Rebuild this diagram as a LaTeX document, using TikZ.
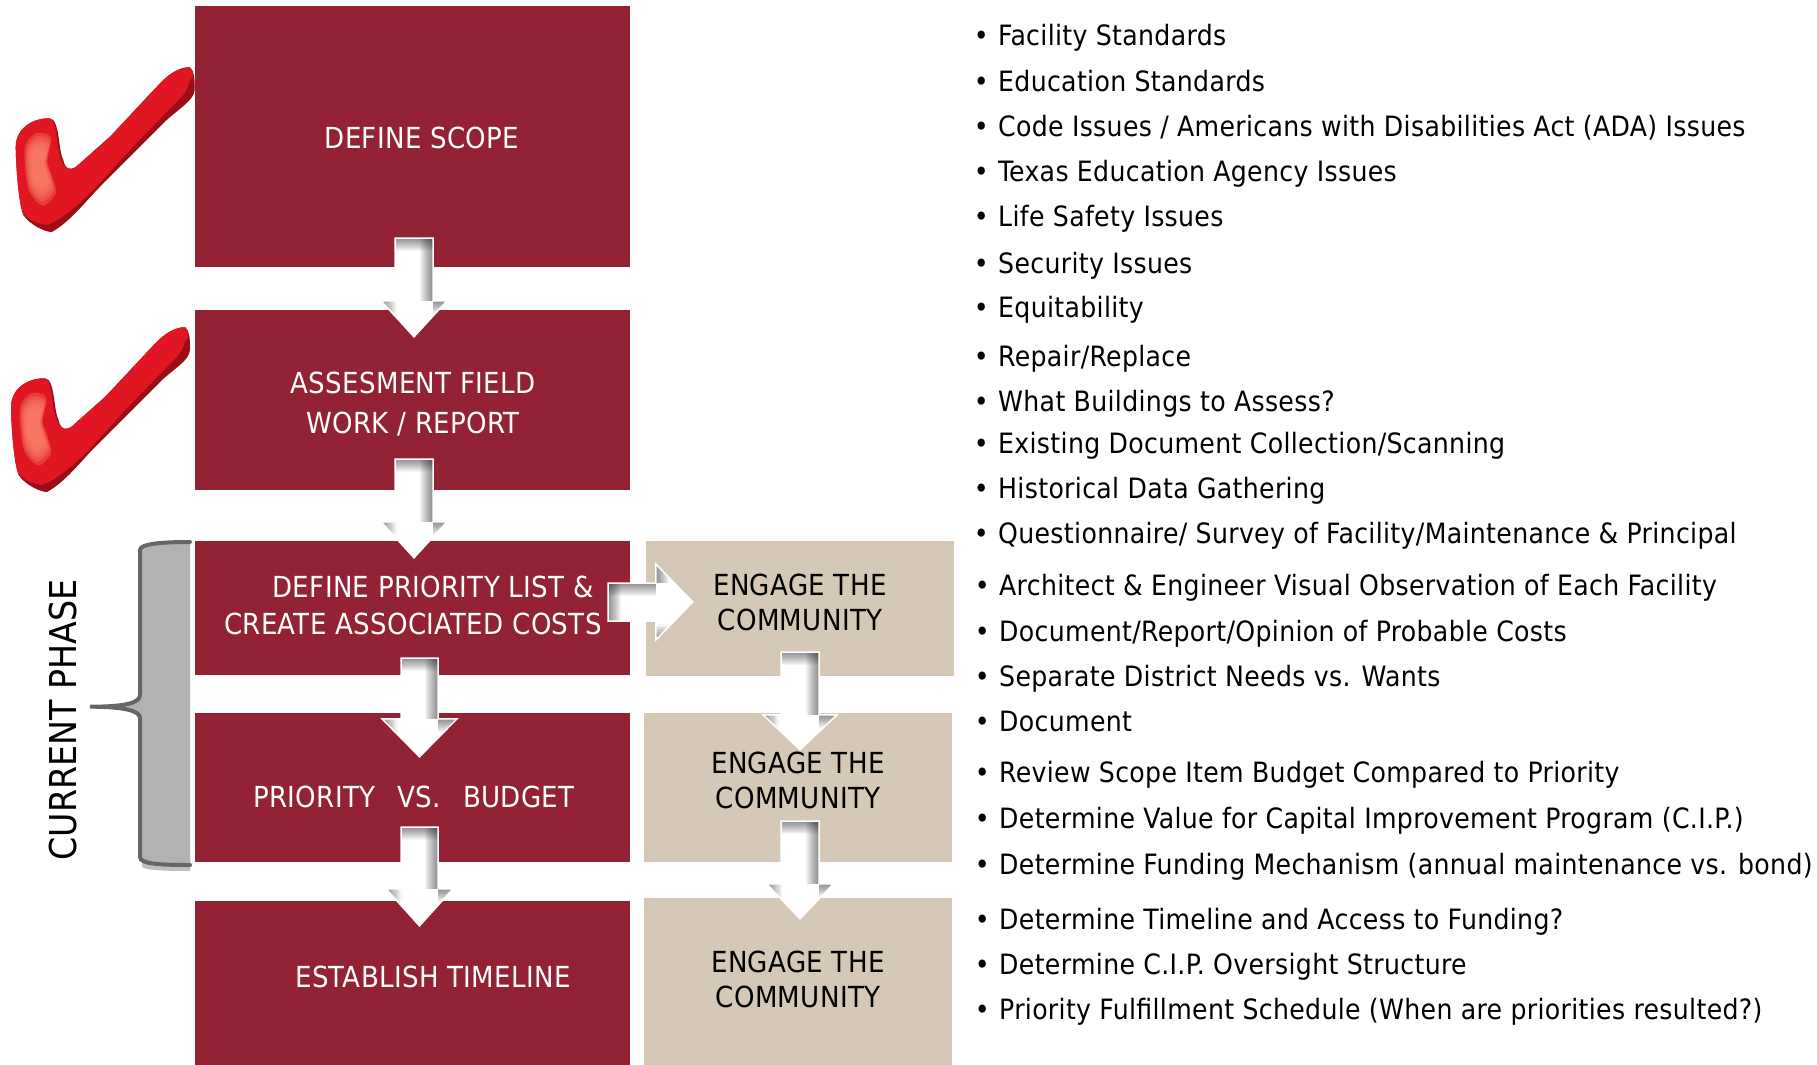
\documentclass[tikz,border=0pt]{standalone}
\usepackage{fontspec}
\setmainfont{DejaVu Sans Condensed}
\newfontfamily\spacedfont[LetterSpace=1.2]{DejaVu Sans Condensed}
\usetikzlibrary{calc}

\definecolor{maroon}{HTML}{932234}
\definecolor{tan}{HTML}{D5C8B6}
\definecolor{tickred}{HTML}{E01723}
\definecolor{tickdark}{HTML}{9C0E17}
\definecolor{tickglow}{HTML}{F9806A}

\tikzset{
    redbox/.style={draw=none, fill=maroon},
    tanbox/.style={draw=none, fill=tan},
    boxtext/.style={align=center, font=\spacedfont\fontsize{29}{35}\selectfont},
    listitem/.style={anchor=base west, inner sep=0pt, font=\spacedfont\fontsize{28}{30}\selectfont}
}

% from, to, angle, half shaft, half head, head length
\newcommand{\blockarrow}[6]{
    \path let \p1=($(#2)-(#1)$), \n1={veclen(\x1,\y1)} in \pgfextra{\xdef\arrowlen{\n1}};
    \begin{scope}[shift={(#1)}, rotate=#3]
        \def\arrowpath{(0pt,-#4pt) -- (0pt,#4pt) -- ({\arrowlen-#6pt},#4pt) -- ({\arrowlen-#6pt},#5pt) -- (\arrowlen,0pt)
            -- ({\arrowlen-#6pt},-#5pt) -- ({\arrowlen-#6pt},-#4pt) -- cycle}
        \fill[white] \arrowpath;
        \begin{scope}
            \clip \arrowpath;
            \foreach \k in {1,...,13} {
                \fill[black, opacity=0.04] (0pt,-#4pt) rectangle (\k pt,#4pt);
                \fill[black, opacity=0.04] (0pt,{(#4-\k)*1pt}) rectangle ({\arrowlen-#6pt},#4pt);
                \fill[black, opacity=0.04] ({\arrowlen-#6pt},#4pt) rectangle ({\arrowlen-#6pt+\k pt},#5pt);
                \fill[black, opacity=0.04] ({\arrowlen-#6pt},-#5pt) rectangle ({\arrowlen-#6pt+\k pt},{(-#5+\k*1.2)*1pt});
            }
        \end{scope}
        \draw[white, line width=1.5pt] \arrowpath;
    \end{scope}
}

\newcommand{\redtick}[2]{
    \begin{scope}[shift={(#1,#2)}]
        \fill[tickdark] (190,67.3) .. controls (194,70) and (195,80) .. (194.7,90)
            .. controls (194,100) and (180,108) .. (166.7,120) -- (100,186.7)
            .. controls (85,202) and (70,222) .. (51.7,232) .. controls (45,232) and (30,225) .. (23.3,215)
            .. controls (19,205) and (16,170) .. (15.7,146.7) .. controls (16,128) and (33,118) .. (50,118.3)
            .. controls (60,120) and (58,150) .. (63.3,160) .. controls (65,170) and (72,172) .. (80,163.3)
            -- (110,136.7) -- (160,83.3) .. controls (170,73) and (180,67) .. (190,67.3) -- cycle;
        \fill[tickred] (190,67.3) .. controls (194,72) and (194,78) .. (190,80)
            .. controls (188,88) and (185,93) .. (181.7,96.7) -- (133,146.7) -- (93.3,190)
            .. controls (80,203) and (62,220) .. (46.7,225) .. controls (38,224) and (28,220) .. (23.3,213)
            .. controls (19,205) and (16,170) .. (15.7,146.7) .. controls (16,128) and (33,118) .. (49,118.3)
            .. controls (58,120) and (56,150) .. (61.5,160) .. controls (64,170) and (72,172) .. (80,163.3)
            -- (110,136.7) -- (160,83.3) .. controls (170,73) and (180,67) .. (190,67.3) -- cycle;
        \foreach \s in {1.2,1.08,0.96,0.84,0.72,0.6}
            \fill[tickglow, opacity=0.35, shift={(39,167)}, scale=\s] plot[smooth cycle] coordinates
                {(-3,-28) (-12,-15) (-9,18) (3,32) (14,22) (11,8) (7,-5) (10,-25)};
    \end{scope}
}

\begin{document}
\begin{tikzpicture}[x=1pt, y=-1pt]
    \useasboundingbox (0,0) rectangle (1817,1065);

    % left column
    \node[redbox, minimum width=435pt, minimum height=261pt] (scope) at (412.5,136.5) {};
    \node[redbox, minimum width=435pt, minimum height=180pt] (field) at (412.5,400) {};
    \node[redbox, minimum width=435pt, minimum height=134pt] (priority) at (412.5,608) {};
    \node[redbox, minimum width=435pt, minimum height=149pt] (budget) at (412.5,787.5) {};
    \node[redbox, minimum width=435pt, minimum height=164pt] (timeline) at (412.5,983) {};

    \node[boxtext, text=white] (scopetext) at (422,138) {DEFINE SCOPE};
    \node[boxtext, text=white, font=\spacedfont\fontsize{29}{40}\selectfont] (fieldtext) at (413,404) {ASSESMENT FIELD\\WORK / REPORT};
    \node[boxtext, text=white, font=\spacedfont\fontsize{29}{37}\selectfont] (prioritytext) at (413,605.5) {\hspace*{40pt}DEFINE PRIORITY LIST \&\\CREATE ASSOCIATED COSTS};
    \node[boxtext, text=white] (budgettext) at (414,797) {PRIORITY\ \ \,VS.\ \ \,BUDGET};
    \node[boxtext, text=white] (timelinetext) at (433,977) {ESTABLISH TIMELINE};

    % right column
    \node[tanbox, minimum width=308pt, minimum height=135pt] (engageone) at (800,608.5) {};
    \node[tanbox, minimum width=308pt, minimum height=149pt] (engagetwo) at (798,787.5) {};
    \node[tanbox, minimum width=308pt, minimum height=167pt] (engagethree) at (798,981.5) {};
    \node[boxtext] (engageonetext) at (800,602.5) {ENGAGE THE\\COMMUNITY};
    \node[boxtext] (engagetwotext) at (798,780) {ENGAGE THE\\COMMUNITY};
    \node[boxtext] (engagethreetext) at (798,979) {ENGAGE THE\\COMMUNITY};

    % arrows
    \coordinate (fa) at ($(scope.south)+(1.5,-29)$);
    \coordinate (fb) at ($(field.north)+(1.5,27)$);
    \coordinate (fc) at ($(field.south)+(1.5,-31)$);
    \coordinate (fd) at ($(priority.north)+(1.5,17)$);
    \coordinate (fe) at ($(priority.south)+(7,-17)$);
    \coordinate (ff) at ($(budget.north)+(7,44)$);
    \coordinate (fg) at ($(budget.south)+(7,-35)$);
    \coordinate (fh) at ($(timeline.north)+(7,25)$);
    \coordinate (ga) at ($(priority.east)+(-22,-6)$);
    \coordinate (gb) at ($(engageone.west)+(47,-6)$);
    \coordinate (gc) at ($(engageone.south)+(0,-24)$);
    \coordinate (gd) at ($(engagetwo.north)+(2,37)$);
    \coordinate (ge) at ($(engagetwo.south)+(2,-41)$);
    \coordinate (gf) at ($(engagethree.north)+(2,21)$);
    \blockarrow{fa}{fb}{-90}{19}{33}{36}
    \blockarrow{fc}{fd}{-90}{19}{33}{36}
    \blockarrow{fe}{ff}{-90}{18.5}{37.5}{38}
    \blockarrow{fg}{fh}{-90}{18.5}{33.5}{37}
    \blockarrow{ga}{gb}{0}{19}{38}{37}
    \blockarrow{gc}{gd}{-90}{19}{37}{35}
    \blockarrow{ge}{gf}{-90}{19}{33.5}{35}

    % ticks
    \redtick{0}{0}
    \redtick{-4.7}{260}

    % brace
    \fill[black!25] (190,545) .. controls (160,545) and (142,546) .. (142,553) -- (142,866) .. controls (142,870) and (160,871) .. (190,871) -- cycle;
    \fill[black!30] (190,541) .. controls (160,541) and (140,543) .. (140,550) -- (140,695)
        .. controls (140,703) and (125,706.7) .. (115,706.7) .. controls (125,706.7) and (140,711) .. (140,718)
        -- (140,857) .. controls (140,864) and (160,866) .. (190,866) -- cycle;
    \draw[black!60, line width=4pt, line cap=round] (190,542) .. controls (160,542) and (140,544) .. (140,550) -- (140,695)
        .. controls (140,703) and (125,706.7) .. (90,706.7) .. controls (125,706.7) and (140,711) .. (140,718)
        -- (140,857) .. controls (140,864) and (160,865) .. (190,865);
    \node[rotate=90, font=\fontsize{37}{37}\selectfont] (phase) at (63,720) {CURRENT PHASE};

    % list
    \foreach \i/\ypos/\xpos/\itemtext in {
        a/46/998/{Facility Standards}, b/91/998/{Education Standards},
        c/136.5/998/{Code Issues / Americans with Disabilities Act (ADA) Issues},
        d/181.7/998/{Texas Education Agency Issues}, e/226.7/998/{Life Safety Issues},
        f/273/998/{Security Issues}, g/317/998/{Equitability}, h/366/998/{Repair/Replace},
        i/411/998/{What Buildings to Assess?}, j/453/998/{Existing Document Collection/Scanning},
        k/498/998/{Historical Data Gathering},
        l/543/998/{Questionnaire/ Survey of Facility/Maintenance \& Principal},
        m/595.7/999/{Architect \& Engineer Visual Observation of Each Facility},
        n/641/999/{Document/Report/Opinion of Probable Costs},
        o/686/999/{Separate District Needs vs. Wants}, p/731.7/999/{Document},
        q/782.7/999/{Review Scope Item Budget Compared to Priority},
        r/828/999/{Determine Value for Capital Improvement Program (C.I.P.)},
        s/874/999/{Determine Funding Mechanism (annual maintenance vs. bond)},
        t/929/999/{Determine Timeline and Access to Funding?},
        u/974/999/{Determine C.I.P. Oversight Structure},
        v/1019/999/{Priority Fulfillment Schedule (When are priorities resulted?)}} {
        \node[listitem] (item\i) at (\xpos,\ypos) {\itemtext};
        \node[anchor=base east, inner sep=0pt, font=\fontsize{28}{30}\selectfont] (bullet\i) at ($(item\i.base west)+(-9,0)$) {•};
    }
\end{tikzpicture}
\end{document}
